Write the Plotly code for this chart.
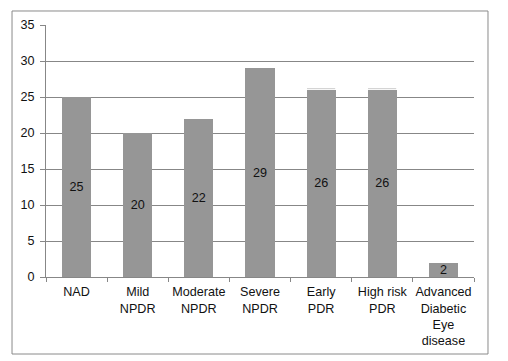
import plotly.graph_objects as go

categories = ["NAD", "Mild<br>NPDR", "Moderate<br>NPDR", "Severe<br>NPDR",
              "Early<br>PDR", "High risk<br>PDR", "Advanced<br>Diabetic<br>Eye<br>disease"]
values = [25, 20, 22, 29, 26, 26, 2]
extra = [None, None, None, None, 0.3, 0.3, None]
y_ticks = [0, 5, 10, 15, 20, 25, 30, 35]

font = dict(family="Liberation Sans, Arial, sans-serif", size=12.6, color="#111111")

fig = go.Figure()
fig.add_trace(go.Bar(
    x=categories, y=values, marker=dict(color="#969696", line=dict(width=0)),
    text=[str(v) for v in values], textposition="inside", insidetextanchor="middle",
    textangle=0,
    textfont=dict(family=font["family"], size=12.6, color="#111111"),
    showlegend=False,
))
fig.add_trace(go.Bar(
    x=categories, y=extra, marker=dict(color="#d4d4d4", line=dict(color="white", width=0.8)),
    showlegend=False, hoverinfo="skip",
))

fig.update_layout(
    width=500, height=353,
    margin=dict(l=38, r=34, t=17, b=84),
    barmode="stack", bargap=0.525,
    plot_bgcolor="white", paper_bgcolor="white",
    font=font,
    uniformtext=dict(minsize=12, mode="show"),
    shapes=[dict(type="rect", xref="paper", yref="paper",
                 x0=-0.0794, x1=1.0327, y0=-0.3056, y1=1.0556,
                 line=dict(color="#8a8a8a", width=1), layer="above")],
)
fig.update_yaxes(range=[0, 35], tickvals=y_ticks, showgrid=True, gridcolor="#878787",
                 gridwidth=1, showline=True, linecolor="#878787", linewidth=1,
                 ticks="outside", ticklen=5, tickcolor="#878787", zeroline=False,
                 tickfont=font, automargin=False, ticklabelstandoff=3)
fig.update_xaxes(showline=True, linecolor="#878787", linewidth=1, ticks="outside",
                 tickson="boundaries", ticklen=4, tickcolor="#878787", tickfont=font,
                 tickangle=0, automargin=False, ticklabelstandoff=3)

fig.write_html("out.html")
